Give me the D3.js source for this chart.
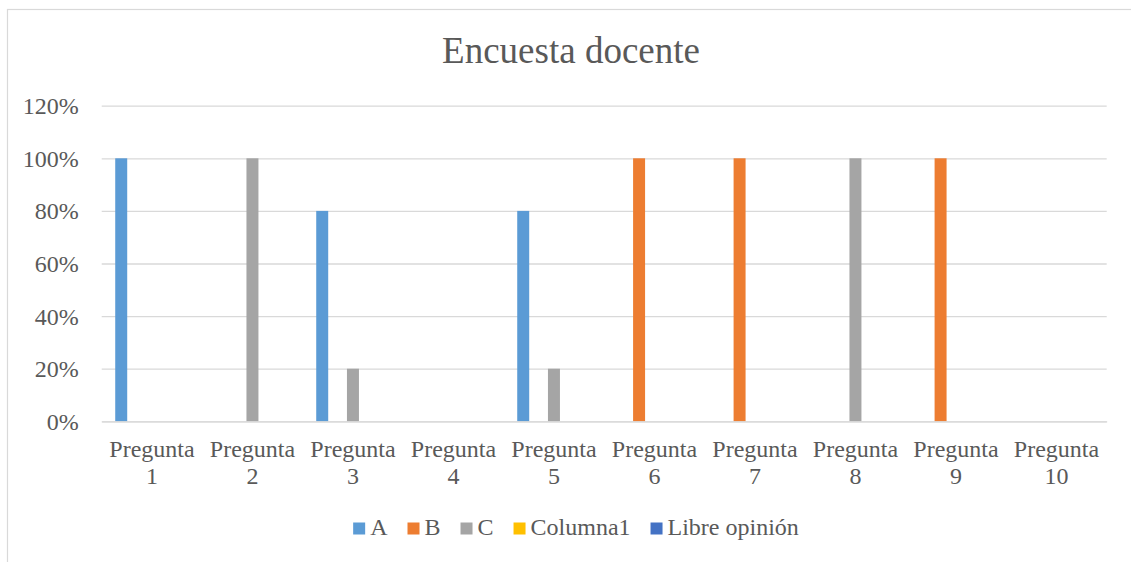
<!DOCTYPE html>
<html>
<head>
<meta charset="utf-8">
<script src="https://cdn.jsdelivr.net/npm/d3@7"></script>
<style>
  html, body { margin: 0; padding: 0; background: #fff; }
  svg { display: block; font-family: "Liberation Serif", "Times New Roman", serif; }
</style>
</head>
<body>
<script>
'use strict';

const categories = ['Pregunta 1', 'Pregunta 2', 'Pregunta 3', 'Pregunta 4', 'Pregunta 5',
  'Pregunta 6', 'Pregunta 7', 'Pregunta 8', 'Pregunta 9', 'Pregunta 10'];
const seriesNames = ['A', 'B', 'C', 'Columna1', 'Libre opinión'];
const seriesColors = ['#5B9BD5', '#ED7D31', '#A5A5A5', '#FFC000', '#4472C4'];
const valuesA = [1, 0, 0.8, 0, 0.8, 0, 0, 0, 0, 0];
const valuesB = [0, 0, 0, 0, 0, 1, 1, 0, 1, 0];
const valuesC = [0, 1, 0.2, 0, 0.2, 0, 0, 1, 0, 0];
const valuesColumna1 = [0, 0, 0, 0, 0, 0, 0, 0, 0, 0];
const valuesLibre = [0, 0, 0, 0, 0, 0, 0, 0, 0, 0];
const yTicks = [0, 0.2, 0.4, 0.6, 0.8, 1.0, 1.2];

const seriesValues = [valuesA, valuesB, valuesC, valuesColumna1, valuesLibre];

const W = 1131, H = 562;
const plot = { left: 101.7, right: 1106.7, top: 105.7, bottom: 421.3 };
const textColor = '#595959';

const svg = d3.select('body')
  .append('svg')
  .attr('width', W)
  .attr('height', H);

// chart frame
svg.append('rect')
  .attr('x', 7.5)
  .attr('y', 9.5)
  .attr('width', 1300)
  .attr('height', 700)
  .attr('fill', '#fff')
  .attr('stroke', '#d9d9d9')
  .attr('stroke-width', 1.2);

// title
svg.append('text')
  .attr('x', 571)
  .attr('y', 62.5)
  .attr('text-anchor', 'middle')
  .attr('fill', textColor)
  .style('font-size', '37px')
  .text('Encuesta docente');

const x0 = d3.scaleBand()
  .domain(categories)
  .range([plot.left, plot.right]);

const x1 = d3.scaleBand()
  .domain(seriesNames)
  .range([0, x0.bandwidth()])
  .paddingInner(0.22)
  .paddingOuter(0.88);

const y = d3.scaleLinear()
  .domain([0, 1.2])
  .range([plot.bottom, plot.top]);

// gridlines + y labels
const yAxis = d3.axisLeft(y)
  .tickValues(yTicks)
  .tickFormat(d3.format('.0%'))
  .tickSize(-(plot.right - plot.left))
  .tickPadding(23);

const yG = svg.append('g')
  .attr('transform', `translate(${plot.left},0)`)
  .call(yAxis);
yG.select('.domain').remove();
yG.selectAll('.tick line')
  .attr('stroke', '#d9d9d9')
  .attr('stroke-width', 1.3);
yG.selectAll('.tick text')
  .attr('fill', textColor)
  .attr('dy', '0.33em')
  .style('font-size', '24px')
  .style('font-family', '"Liberation Serif", "Times New Roman", serif');

// bars
const table = categories.map((c, i) => ({
  cat: c,
  vals: seriesNames.map((s, j) => ({ key: s, value: seriesValues[j][i], color: seriesColors[j] }))
}));

svg.append('g')
  .selectAll('g')
  .data(table)
  .enter()
  .append('g')
  .attr('transform', d => `translate(${x0(d.cat)},0)`)
  .selectAll('rect')
  .data(d => d.vals.filter(v => v.value > 0))
  .enter()
  .append('rect')
  .attr('x', d => x1(d.key))
  .attr('y', d => y(d.value))
  .attr('width', x1.bandwidth())
  .attr('height', d => y(0) - y(d.value))
  .attr('fill', d => d.color);

// x axis
const xAxis = d3.axisBottom(x0).tickSize(0).tickFormat('');
const xG = svg.append('g')
  .attr('transform', `translate(0,${plot.bottom})`)
  .call(xAxis);
xG.select('.domain')
  .attr('stroke', '#d9d9d9')
  .attr('stroke-width', 1.3);

xG.selectAll('.tick')
  .append('text')
  .attr('text-anchor', 'middle')
  .attr('fill', textColor)
  .style('font-size', '24px')
  .style('font-family', '"Liberation Serif", "Times New Roman", serif')
  .each(function (d) {
    const parts = d.split(' ');
    const t = d3.select(this);
    t.append('tspan').attr('x', 0).attr('y', 36).text(parts[0]);
    t.append('tspan').attr('x', 0).attr('y', 63).text(parts[1]);
  });

// legend
const legend = svg.append('g');
const items = legend.selectAll('g')
  .data(seriesNames)
  .enter()
  .append('g');

items.append('rect')
  .attr('width', 12)
  .attr('height', 12)
  .attr('y', -12.5)
  .attr('fill', (d, i) => seriesColors[i]);

items.append('text')
  .attr('x', 17)
  .attr('fill', textColor)
  .style('font-size', '24px')
  .text(d => d);

let cursor = 0;
items.each(function () {
  const g = d3.select(this);
  const w = 17 + g.select('text').node().getComputedTextLength();
  g.attr('transform', `translate(${cursor},0)`);
  cursor += w + 20;
});
const legendWidth = cursor - 20;
legend.attr('transform', `translate(${576 - legendWidth / 2},535)`);
</script>
</body>
</html>
